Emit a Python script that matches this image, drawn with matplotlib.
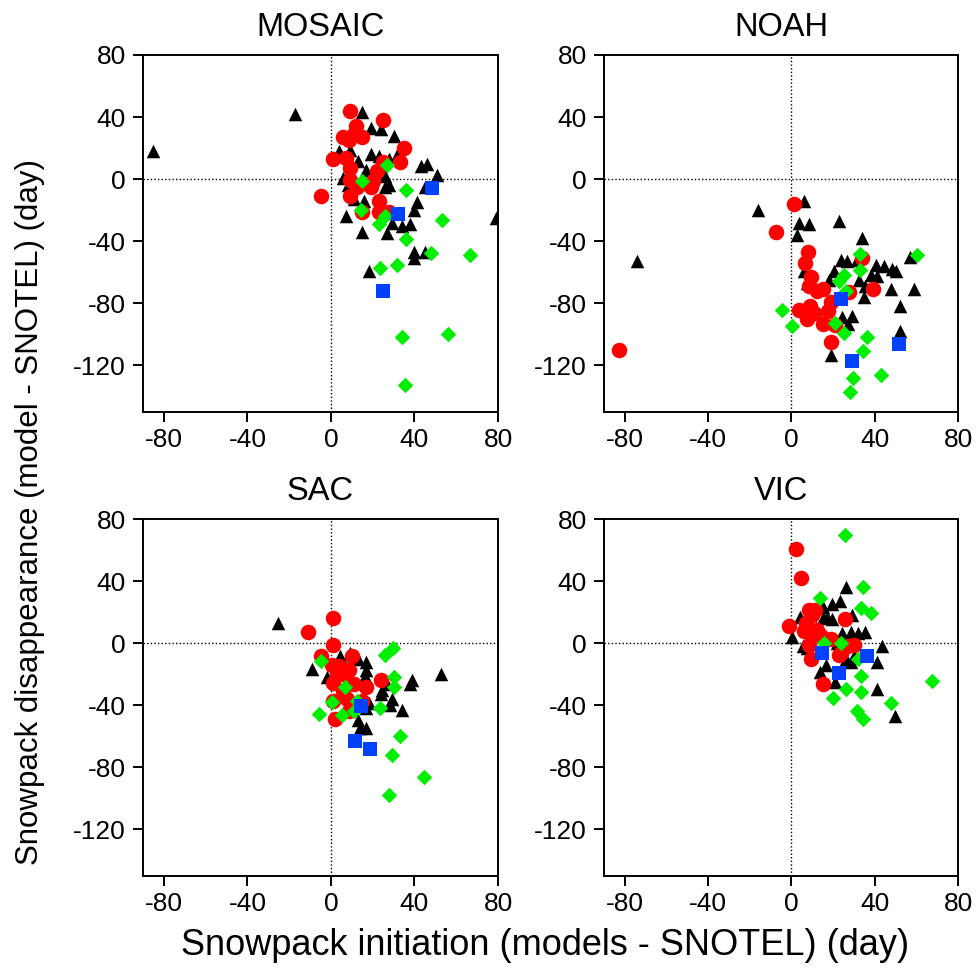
import numpy as np
import matplotlib
matplotlib.use("Agg")
import matplotlib.pyplot as plt

plt.rcParams['font.family'] = ['Liberation Sans', 'DejaVu Sans']
plt.rcParams['axes.unicode_minus'] = False

# (initiation diff, disappearance diff) in days
mosaic_tri = [(-85, 18), (-17, 42), (15, 43), (19, 33), (24, 32), (30, 28), (4, 18), (9, 19),
              (13, 12), (19, 16), (23, 15), (28, 13), (32, 17), (17, 6), (43, 8.5), (46, 10),
              (51, 3), (6, 0.5), (8, -4), (26, 2), (26, -5), (28, -4), (45, -5), (11, -13),
              (16, -14), (41, -15), (40, -20), (7, -24), (29, -28), (34, -30), (38, -29),
              (15, -34), (27, -35), (40, -47), (40, -51), (45, -47), (18, -59), (79, -25)]
mosaic_circ = [(9, 44), (25, 38), (12, 34), (6, 27), (8.5, 25), (15, 27), (11, 29), (35, 20),
               (1, 13), (7, 13.5), (9, 7), (33, 11), (25, 11), (22, 5), (9, -0.5), (12.5, -5),
               (19, -5), (20, -1), (9, -11), (-5, -11), (23, -14), (15, -21), (23, -21), (28, -21)]
mosaic_diam = [(27, 9), (15, -1.5), (36, -7), (14.5, -20), (26, -24), (23, -29), (36, -38.5),
               (53, -26), (48, -47.5), (66.5, -49), (23.5, -57.5), (31.5, -55.5), (34, -101.5),
               (56, -99.5), (35.5, -132.5)]
mosaic_sq = [(48.5, -6), (32, -22.5), (25, -72)]

noah_tri = [(-74, -53), (-16, -20), (6, -14), (3.5, -28), (8.5, -29), (2.5, -36), (23, -27),
            (34, -38), (24, -52), (26.5, -53), (31.5, -52), (40.5, -55), (44.5, -56), (48.5, -58),
            (50, -59), (57, -50), (20.5, -59), (18, -65), (32.5, -65), (35.5, -69), (41, -62.5),
            (38, -62), (48, -70.5), (59, -70.5), (35, -76), (52, -82), (52, -98), (24.5, -88.5),
            (29, -88), (27, -93.5), (19, -113), (6, -59), (7.5, -67), (12, -86)]
noah_circ = [(-83, -110), (-7.5, -34), (1, -16), (8, -47), (6.5, -54), (9.5, -63), (8.5, -69),
             (12.5, -72), (15, -71), (19, -79), (9, -82), (3.5, -84), (7.5, -90), (11, -86),
             (15, -93.5), (17.5, -85), (21, -94), (19, -105), (34, -51), (39, -71), (27.5, -73)]
noah_diam = [(33, -48.5), (60.5, -49), (33, -58.5), (25, -62), (23, -65.5), (26, -72),
             (-4.5, -84.5), (0.5, -94.5), (21, -92.5), (25, -99), (36.5, -101.5), (34.5, -111),
             (43, -126), (29.5, -128), (28, -137)]
noah_sq = [(24, -77.5), (29, -117), (51.5, -106.5)]

sac_tri = [(-25.5, 13), (-9, -16.5), (-2, -21.5), (9, -6), (4.5, -8.5), (13, -10), (17, -12),
           (17, -17), (16.5, -21), (52.5, -20), (39, -24), (38, -26), (24, -33), (29, -36),
           (28.5, -40), (34, -43), (17, -42), (18, -38.5), (24.5, -30), (6, -31), (13, -49.5),
           (17, -54.5), (14, -54.5), (27, -26)]
sac_circ = [(1, 16), (-11, 7), (1, -1), (-5, -8), (10, -8.5), (0.5, -14), (4, -15), (8.5, -17),
            (6, -20), (3, -19), (1, -25.5), (11, -26), (17, -28.5), (24, -24), (6, -31),
            (7.5, -36), (1, -37), (15, -37), (8.5, -44), (2, -49)]
sac_diam = [(26, -7.5), (29.5, -3), (-5, -11.5), (30, -21.5), (30, -28.5), (6.5, -28), (0.5, -38),
            (-5.5, -45.5), (5.5, -46.5), (11, -44), (12.5, -37.5), (23.5, -41.5), (33, -59.5),
            (29, -72), (44.5, -86.5), (28, -98)]
sac_sq = [(14.5, -40.5), (11.5, -63), (18.5, -68)]

vic_tri = [(26, 36), (19.5, 25), (23.5, 27), (15, 23.5), (4, 17), (15, 16), (19.5, 15.5),
           (17, 17), (29, 18), (28.5, 7.5), (32, 6.5), (35.5, 7.5), (24.5, 6.5), (0.5, 4),
           (5.5, -2), (7.5, -3), (43.5, -1.5), (41, -12), (16.5, -14), (13.5, -18.5), (21, -25),
           (26, -10.5), (28.5, -12), (30, -8), (41, -29.5), (49.5, -47), (12, 10), (22, 0)]
vic_circ = [(2, 61), (4.5, 42), (8.5, 21.5), (11.5, 21.5), (10, 18), (-1, 11), (7, 13),
            (12.5, 8.5), (10, 5), (14, 4.5), (8.5, -1), (19, 2.5), (25.5, 15.5), (9.5, -10.5),
            (23, -7.5), (24, -6), (30, -1), (27, -2), (15, -26.5), (6, 8)]
vic_diam = [(25.5, 70), (34.5, 36), (13.5, 29), (33.5, 22.5), (38, 19.5), (15.5, 0), (24, 0),
            (32, -10.5), (33.5, -21), (26, -29.5), (33.5, -31.5), (20, -35), (31.5, -43.5),
            (34.5, -49), (48, -38.5), (67.5, -24.5)]
vic_sq = [(14.5, -6.5), (23, -19.5), (36.5, -8.5)]

titles = ['MOSAIC', 'NOAH', 'SAC', 'VIC']
panels = [
    (mosaic_tri, mosaic_circ, mosaic_diam, mosaic_sq),
    (noah_tri, noah_circ, noah_diam, noah_sq),
    (sac_tri, sac_circ, sac_diam, sac_sq),
    (vic_tri, vic_circ, vic_diam, vic_sq),
]
xticks = [-80, -40, 0, 40, 80]
yticks = [80, 40, 0, -40, -80, -120]

fig = plt.figure(figsize=(9.79, 9.80), dpi=100)
rects = [
    [0.1461, 0.5796, 0.3626, 0.3643],
    [0.6170, 0.5796, 0.3616, 0.3643],
    [0.1461, 0.1061, 0.3626, 0.3643],
    [0.6170, 0.1061, 0.3616, 0.3643],
]

styles = [
    dict(marker='^', color='black', s=95),
    dict(marker='o', color='#ff0000', s=125),
    dict(marker='D', color='#00ee00', s=62),
    dict(marker='s', color='#0040ff', s=95),
]

for rect, title, groups in zip(rects, titles, panels):
    ax = fig.add_axes(rect)
    ax.axhline(0, color='black', ls=(0, (1, 1.6)), lw=1.0, zorder=1)
    ax.axvline(0, color='black', ls=(0, (1, 1.6)), lw=1.0, zorder=1)
    for pts, st in zip(groups, styles):
        arr = np.array(pts)
        ax.scatter(arr[:, 0], arr[:, 1], marker=st['marker'], c=st['color'],
                   s=st['s'], linewidths=0, zorder=2)
    ax.set_xlim(-90, 80)
    ax.set_ylim(-150, 80)
    ax.set_xticks(xticks)
    ax.set_yticks(yticks)
    ax.tick_params(axis='both', direction='out', length=7.5, width=1.4,
                   labelsize=19, top=False, right=False)
    ax.tick_params(axis='x', pad=4)
    ax.tick_params(axis='y', pad=5)
    for sp in ax.spines.values():
        sp.set_linewidth(1.4)
    ax.set_title(title, fontsize=23.5, pad=14)

fig.text(0.5567, 0.0357, 'Snowpack initiation (models - SNOTEL) (day)',
         ha='center', va='center', fontsize=26)
fig.text(0.0306, 0.4776, 'Snowpack disappearance (model - SNOTEL) (day)',
         ha='center', va='center', rotation=90, fontsize=22.5)

fig.savefig('out.png', dpi=100)
